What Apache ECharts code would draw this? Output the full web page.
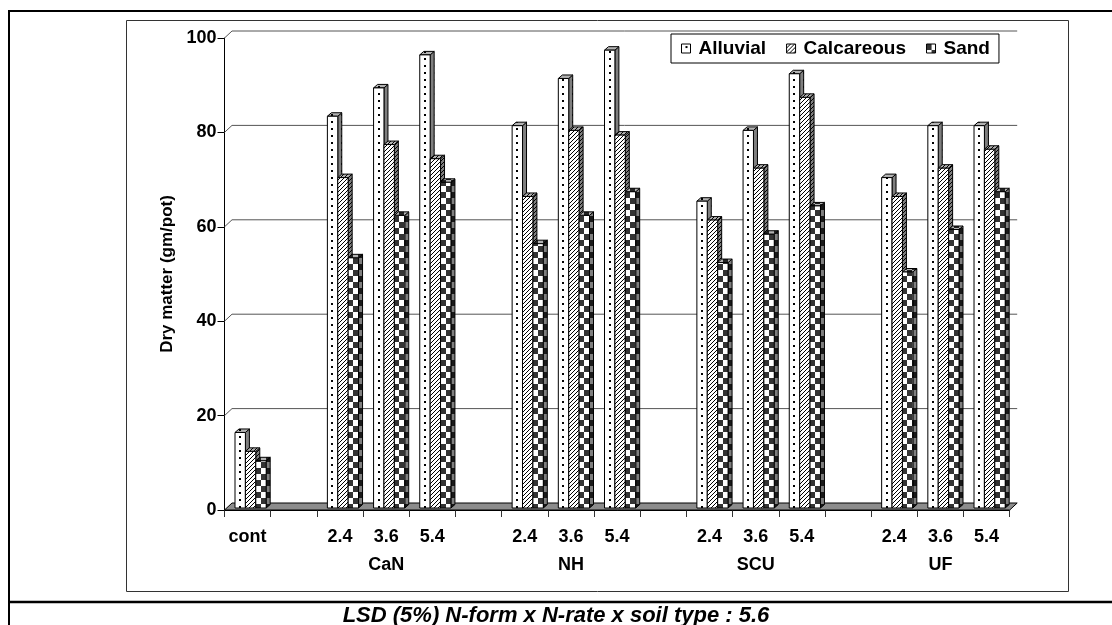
<!DOCTYPE html>
<html>
<head>
<meta charset="utf-8">
<script src="https://cdn.jsdelivr.net/npm/echarts@6/dist/echarts.min.js"></script>
<style>
html,body{margin:0;padding:0;background:#fff;}
#chart{width:1112px;height:625px;}
</style>
</head>
<body>
<div id="chart"></div>
<script>
// ---- data ----
const xCats = ['cont','','2.4','3.6','5.4','','2.4','3.6','5.4','','2.4','3.6','5.4','','2.4','3.6','5.4'];
const groupLabels = ['','','','CaN','','','','NH','','','','SCU','','','','UF',''];
const yTicks = [0, 20, 40, 60, 80, 100];
const seriesNames = ['Alluvial', 'Calcareous', 'Sand'];
const alluvial   = [16, null, 83, 89, 96, null, 81, 91, 97, null, 65, 80, 92, null, 70, 81, 81];
const calcareous = [12, null, 70, 77, 74, null, 66, 80, 79, null, 61, 72, 87, null, 66, 72, 76];
const sand       = [10, null, 53, 62, 69, null, 56, 62, 67, null, 52, 58, 64, null, 50, 59, 67];
const caption = 'LSD (5%) N-form x N-rate x soil type : 5.6';
const yTitle = 'Dry matter (gm/pot)';

const FONT = '"Liberation Sans", Arial, sans-serif';

// ---- fill patterns ----
function canvas(w, h) { const c = document.createElement('canvas'); c.width = w; c.height = h; return c; }
const patDots = (function () {
  const c = canvas(10, 7), g = c.getContext('2d');
  g.fillStyle = '#fff'; g.fillRect(0, 0, 10, 7);
  g.fillStyle = '#000'; g.fillRect(4, 2, 2, 2);
  return c;
})();
const patDiag = (function () {
  const c = canvas(4, 4), g = c.getContext('2d');
  g.fillStyle = '#fff'; g.fillRect(0, 0, 4, 4);
  g.fillStyle = '#000';
  for (let i = 0; i < 4; i++) g.fillRect(i, 3 - i, 1, 1);
  return c;
})();
const patCheck = (function () {
  const c = canvas(10, 12), g = c.getContext('2d');
  g.fillStyle = '#fff'; g.fillRect(0, 0, 10, 12);
  g.fillStyle = '#333'; g.fillRect(0, 0, 5, 6); g.fillRect(5, 6, 5, 6);
  return c;
})();
const patterns = [patDots, patDiag, patCheck];

// 3D geometry (pixels)
const DX = 4, DY = -3.5, SX = 3, SY = -2, WALL_DX = 7.5, WALL_DY = -7;

function barRender(k) {
  const pat = patterns[k];
  return function (params, api) {
    const idx = api.value(0), v = api.value(1);
    const base = api.coord([idx, 0]);
    const top = api.coord([idx, v]);
    const cw = api.size([1, 0])[0];
    const w = cw * 0.225;
    const x0 = base[0] - 1.5 * w + SX + k * w;
    const yb = base[1] + SY, yt = top[1] + SY;
    const fill = { image: pat, repeat: 'repeat', x: Math.round(x0), y: 0 };
    const side = [[x0 + w, yt], [x0 + w + DX, yt + DY], [x0 + w + DX, yb + DY], [x0 + w, yb]];
    const topF = [[x0, yt], [x0 + DX, yt + DY], [x0 + w + DX, yt + DY], [x0 + w, yt]];
    return {
      type: 'group',
      children: [
        { type: 'polygon', shape: { points: side }, style: { fill: fill } },
        { type: 'polygon', shape: { points: side }, style: { fill: 'rgba(0,0,0,0.5)', stroke: '#000', lineWidth: 1 } },
        { type: 'polygon', shape: { points: topF }, style: { fill: fill } },
        { type: 'polygon', shape: { points: topF }, style: { fill: 'rgba(0,0,0,0.3)', stroke: '#000', lineWidth: 1 } },
        { type: 'rect', shape: { x: x0, y: yt, width: w, height: yb - yt }, style: { fill: fill, stroke: '#000', lineWidth: 1 } }
      ]
    };
  };
}

function wallRender(params, api) {
  const v = api.value(1);
  const cw = api.size([1, 0])[0];
  const pL = api.coord([0, v]);
  const pR = api.coord([xCats.length - 1, v]);
  const xL = pL[0] - cw / 2, xR = pR[0] + cw / 2, y = pL[1];
  if (v === 0) {
    return {
      type: 'polygon',
      shape: { points: [[xL, y], [xR, y], [xR + WALL_DX, y + WALL_DY], [xL + WALL_DX, y + WALL_DY]] },
      style: { fill: '#8c8c8c', stroke: '#000', lineWidth: 1 }
    };
  }
  return {
    type: 'polyline',
    shape: { points: [[xL, y], [xL + WALL_DX, y + WALL_DY], [xR + WALL_DX, y + WALL_DY]] },
    style: { fill: null, stroke: '#555', lineWidth: 1 }
  };
}

function toData(arr) {
  const out = [];
  arr.forEach((v, i) => { if (v !== null) out.push([i, v]); });
  return out;
}

const chart = echarts.init(document.getElementById('chart'), null, { renderer: 'canvas' });

const barSeries = [alluvial, calcareous, sand].map((arr, k) => ({
  type: 'custom',
  name: seriesNames[k],
  renderItem: barRender(k),
  data: toData(arr),
  encode: { x: 0, y: 1 },
  clip: false,
  itemStyle: { color: { image: patterns[k], repeat: 'repeat' }, borderColor: '#000', borderWidth: 1 }
}));

chart.setOption({
  animation: false,
  backgroundColor: '#fff',
  textStyle: { fontFamily: FONT },
  grid: { left: 224.5, right: 102.3, top: 38, bottom: 115, containLabel: false },
  legend: {
    data: seriesNames,
    left: 671, top: 34,
    icon: 'rect',
    itemWidth: 9, itemHeight: 9, itemGap: 20,
    padding: [5, 9, 5, 10],
    backgroundColor: '#fff', borderColor: '#000', borderWidth: 1,
    textStyle: { fontSize: 19, fontWeight: 'bold', color: '#000', fontFamily: FONT, padding: [0, 0, 0, 3] },
    itemStyle: { borderColor: '#000', borderWidth: 1 }
  },
  xAxis: [
    {
      type: 'category', data: xCats, position: 'bottom',
      axisLine: { show: true, lineStyle: { color: '#000', width: 1 } },
      axisTick: { show: true, length: 7, lineStyle: { color: '#333' } },
      axisLabel: { interval: 0, margin: 18, fontSize: 18, fontWeight: 'bold', color: '#000', fontFamily: FONT },
      splitLine: { show: false }
    },
    {
      type: 'category', data: groupLabels, position: 'bottom', offset: 0,
      axisLine: { show: false }, axisTick: { show: false },
      axisLabel: { interval: 0, margin: 46, fontSize: 18, fontWeight: 'bold', color: '#000', fontFamily: FONT },
      splitLine: { show: false }
    }
  ],
  yAxis: {
    type: 'value', min: 0, max: 100, interval: 20,
    name: yTitle, nameLocation: 'middle', nameGap: 37, nameRotate: 90,
    nameTextStyle: { fontSize: 17, fontWeight: 'bold', color: '#000', fontFamily: FONT },
    axisLine: { show: true, lineStyle: { color: '#000', width: 1 } },
    axisTick: { show: true, length: 7, lineStyle: { color: '#000' } },
    axisLabel: { margin: 8, fontSize: 18, fontWeight: 'bold', color: '#000', fontFamily: FONT },
    splitLine: { show: false }
  },
  series: [
    {
      type: 'custom', name: 'wall', renderItem: wallRender, silent: true, clip: false,
      data: yTicks.map(v => [0, v]), encode: { x: 0, y: 1 }, z: 1
    }
  ].concat(barSeries),
  graphic: [
    { type: 'line', shape: { x1: 8, y1: 11, x2: 1112, y2: 11 }, style: { stroke: '#000', lineWidth: 2 } },
    { type: 'line', shape: { x1: 9, y1: 10, x2: 9, y2: 625 }, style: { stroke: '#000', lineWidth: 2 } },
    { type: 'line', shape: { x1: 8, y1: 602, x2: 1112, y2: 602 }, style: { stroke: '#000', lineWidth: 2.5 } },
    { type: 'rect', shape: { x: 126.5, y: 20.5, width: 942, height: 571 }, style: { fill: null, stroke: '#333', lineWidth: 1 }, z: -1 },
    { type: 'text', x: 556, y: 616, style: { text: caption, align: 'center', verticalAlign: 'middle', font: 'italic bold 22px "Liberation Sans", Arial, sans-serif', fill: '#000' } }
  ]
});
</script>
</body>
</html>
